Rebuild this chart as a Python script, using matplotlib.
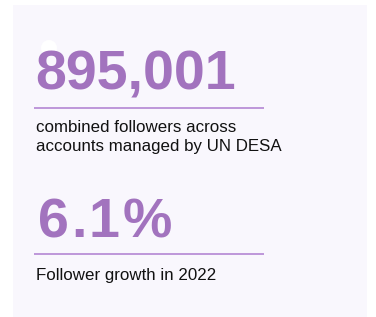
import matplotlib.pyplot as plt
from matplotlib.patches import Rectangle, Circle

# stat tiles
big_values = ["895,001", "6.1%"]
captions = [["combined followers across", "accounts managed by UN DESA"],
            ["Follower growth in 2022"]]

purple = "#a273be"
line_col = "#b487d4"
panel_bg = "#f9f7fd"

W, H = 376, 317
fig = plt.figure(figsize=(W / 100, H / 100), dpi=100)
ax = fig.add_axes([0, 0, 1, 1])
ax.set_xlim(0, W)
ax.set_ylim(H, 0)
ax.axis("off")

ax.add_patch(Rectangle((13, 5), 354, 320, facecolor=panel_bg, edgecolor="none"))
ax.add_patch(Circle((49, 48), 8, facecolor="white", edgecolor="none", zorder=1))

big_base = [90, 237]
big_x = [35, 38]
tracking = [0, 2.3]
rule_y = [108, 254]
cap_base = [[132, 151], [280]]

renderer = fig.canvas.get_renderer()


def spaced_text(x, y, s, track, **kw):
    # draw char by char so extra letter spacing can be added
    for ch in s:
        t = ax.text(x, y, ch, **kw)
        w = t.get_window_extent(renderer).width
        x += w + track


for i, val in enumerate(big_values):
    style = dict(fontsize=40, fontweight="bold", family="Liberation Sans",
                 color=purple, va="baseline", ha="left", zorder=2)
    if tracking[i]:
        spaced_text(big_x[i], big_base[i], val, tracking[i], **style)
    else:
        ax.text(big_x[i], big_base[i], val, **style)
    ax.plot([34, 264], [rule_y[i], rule_y[i]], color=line_col, lw=1.2, solid_capstyle="butt")
    for j, line in enumerate(captions[i]):
        ax.text(36, cap_base[i][j], line, fontsize=12.2, family="Liberation Sans",
                color="#111111", va="baseline", ha="left")

fig.savefig("out.png", dpi=100, facecolor="white")
